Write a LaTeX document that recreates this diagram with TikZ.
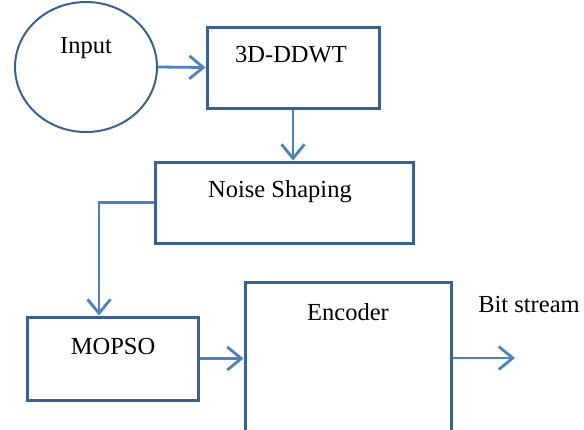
\documentclass[tikz,border=0pt]{standalone}
\usepackage{fontspec}
\setmainfont{Liberation Serif}
\usetikzlibrary{shapes.geometric,arrows.meta}
\definecolor{boxblue}{HTML}{3B6192}
\definecolor{arrblue}{HTML}{4F81BD}
\tikzset{
	blk/.style={draw=boxblue,line width=3pt,rectangle,inner sep=0pt},
	lbl/.style={font=\fontsize{24.5}{28}\selectfont,inner sep=0pt},
	flow/.style={draw=arrblue,line width=2.8pt,-{Straight Barb[length=14pt,width=23pt,line width=2.8pt]}}
}
\begin{document}
\begin{tikzpicture}[x=1pt,y=-1pt]
\clip (0,0) rectangle (584,429);
\fill[white] (0,0) rectangle (584,429);

\node[ellipse,draw=boxblue,line width=2pt,minimum width=142pt,minimum height=130pt,inner sep=0pt] (input) at (86,67) {};
\node[lbl] (inputtxt) at (86,48) {Input};

\node[blk,minimum width=172pt,minimum height=81pt] (ddwt) at (293,67.5) {};
\node[lbl] (ddwttxt) at (291,55) {3D-DDWT};

\node[blk,minimum width=258pt,minimum height=81pt] (noise) at (284,202.5) {};
\node[lbl] (noisetxt) at (280,192) {Noise Shaping};

\node[blk,minimum width=171pt,minimum height=83pt] (mopso) at (112.5,358.5) {};
\node[lbl] (mopsotxt) at (113,347) {MOPSO};

\node[blk,minimum width=206pt,minimum height=200pt] (enc) at (348,382) {};
\node[lbl] (enctxt) at (348,312) {Encoder};

\node[lbl] (bits) at (529,305) {Bit stream};

\coordinate (bend) at (99,202.5);
\coordinate (out) at (515,358);

\draw[flow] (input.east) -- (ddwt.west);
\draw[flow] (ddwt.south) -- (ddwt.south |- noise.north);
\draw[flow] (noise.west) -- (bend) -- (bend |- mopso.north);
\draw[flow] (mopso.east) -- (mopso.east -| enc.west);
\draw[flow] (enc.east |- out) -- (out);
\end{tikzpicture}
\end{document}
